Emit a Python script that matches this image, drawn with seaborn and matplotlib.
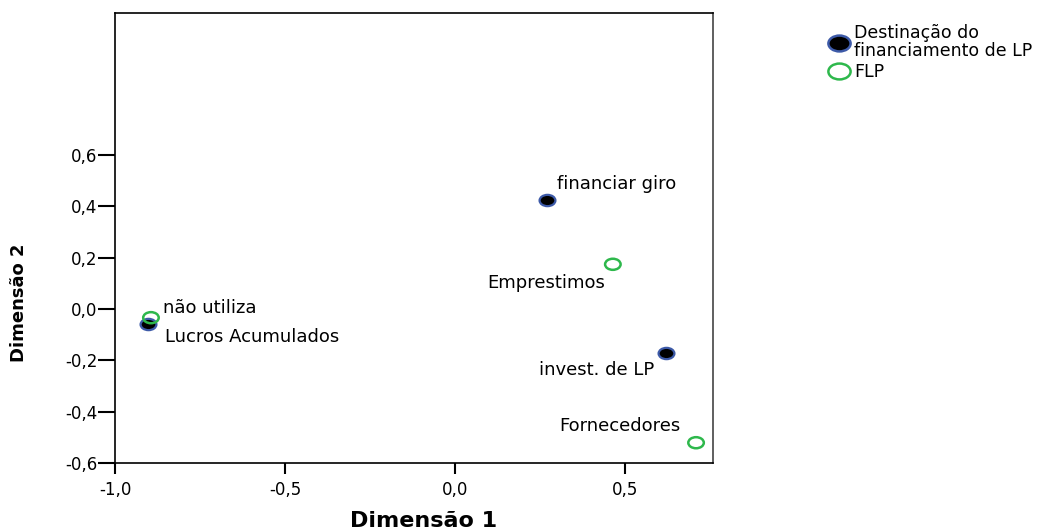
import matplotlib
matplotlib.use("Agg")
import matplotlib.pyplot as plt
from matplotlib.lines import Line2D
from matplotlib.path import Path
from matplotlib.transforms import Affine2D
import pandas as pd
import seaborn as sns

# category points (Dimensão 1, Dimensão 2)
dest_labels = ["financiar giro", "invest. de LP", "Lucros Acumulados"]
dest_dim1 = [0.271, 0.622, -0.903]
dest_dim2 = [0.425, -0.170, -0.060]

flp_labels = ["Emprestimos", "Fornecedores", "não utiliza"]
flp_dim1 = [0.465, 0.710, -0.895]
flp_dim2 = [0.174, -0.521, -0.034]

xticks = [-1.0, -0.5, 0.0, 0.5]
xtick_labels = ["-1,0", "-0,5", "0,0", "0,5"]
yticks = [-0.6, -0.4, -0.2, 0.0, 0.2, 0.4, 0.6]
ytick_labels = ["-0,6", "-0,4", "-0,2", "0,0", "0,2", "0,4", "0,6"]

legend_labels = ["Destinação do\nfinanciamento de LP", "FLP"]

BLUE = "#3d5aa8"
GREEN = "#2eb84c"

sns.set_theme(style="white")
plt.rcParams["font.family"] = ["DejaVu Sans"]
plt.rcParams["text.color"] = "black"

dest = pd.DataFrame({"dim1": dest_dim1, "dim2": dest_dim2, "label": dest_labels})
flp = pd.DataFrame({"dim1": flp_dim1, "dim2": flp_dim2, "label": flp_labels})

# slightly wide ellipse marker, like the stretched original
ell = Path.unit_circle().transformed(Affine2D().scale(1.4, 1.0))

W, H = 1061, 531
fig = plt.figure(figsize=(W / 100, H / 100), dpi=100)
ax = fig.add_axes([115.3 / W, (H - 463) / H, (712.7 - 115.3) / W, (463 - 12.7) / H])

sns.scatterplot(data=dest, x="dim1", y="dim2", marker=ell, s=130, color="black",
                edgecolor=BLUE, linewidth=1.6, ax=ax, legend=False, zorder=3)
sns.scatterplot(data=flp, x="dim1", y="dim2", marker=ell, s=125, color=GREEN,
                edgecolor=GREEN, linewidth=1.8, ax=ax, legend=False, zorder=4)
ax.collections[-1].set_facecolor("none")

# point labels, offsets in pixels from the marker
offsets = {
    "financiar giro": (10, 11, "left"),
    "invest. de LP": (-12, -22, "right"),
    "Lucros Acumulados": (17, -18, "left"),
    "Emprestimos": (-8, -24, "right"),
    "Fornecedores": (-16, 12, "right"),
    "não utiliza": (12, 5, "left"),
}
for df in (dest, flp):
    for _, r in df.iterrows():
        dx, dy, ha = offsets[r["label"]]
        ax.annotate(r["label"], (r["dim1"], r["dim2"]), xytext=(dx, dy),
                    textcoords="offset pixels", ha=ha, va="baseline",
                    fontsize=13, color="black")

ax.set_xlim(-1.0, 0.759)
ax.set_ylim(-0.6, 1.154)
ax.set_xticks(xticks)
ax.set_xticklabels(xtick_labels)
ax.set_yticks(yticks)
ax.set_yticklabels(ytick_labels)
ax.set_xlabel("")
ax.set_ylabel("")
ax.tick_params(axis="x", direction="out", length=8, width=1.5, pad=5,
               labelsize=12, colors="black", bottom=True)
ax.tick_params(axis="y", direction="out", length=12, width=1.5, pad=1,
               labelsize=12, colors="black", left=True)
for s in ax.spines.values():
    s.set_color("black")
    s.set_linewidth(1.2)
ax.spines["right"].set_color("#444444")

fig.text(424 / W, (H - 527) / H, "Dimensão 1", ha="center", va="baseline",
         fontsize=16, fontweight="bold", color="black")
fig.text(19 / W, 1 - 303 / H, "Dimensão 2", ha="center", va="center",
         rotation=90, fontsize=13, fontweight="bold", color="black")

handles = [
    Line2D([], [], ls="", marker=ell, markersize=16, markerfacecolor="black",
           markeredgecolor=BLUE, markeredgewidth=1.8),
    Line2D([], [], ls="", marker=ell, markersize=16, markerfacecolor="none",
           markeredgecolor=GREEN, markeredgewidth=1.8),
]
leg = fig.legend(handles, legend_labels, loc="upper left",
                 bbox_to_anchor=(829 / W, 1 - 24 / H), frameon=False,
                 fontsize=12.5, handlelength=1.1, handletextpad=0.35,
                 labelspacing=0.2, borderpad=0, borderaxespad=0)
for t in leg.get_texts():
    t.set_linespacing(1.0)
    t.set_color("black")

fig.savefig("out.png", dpi=100)
